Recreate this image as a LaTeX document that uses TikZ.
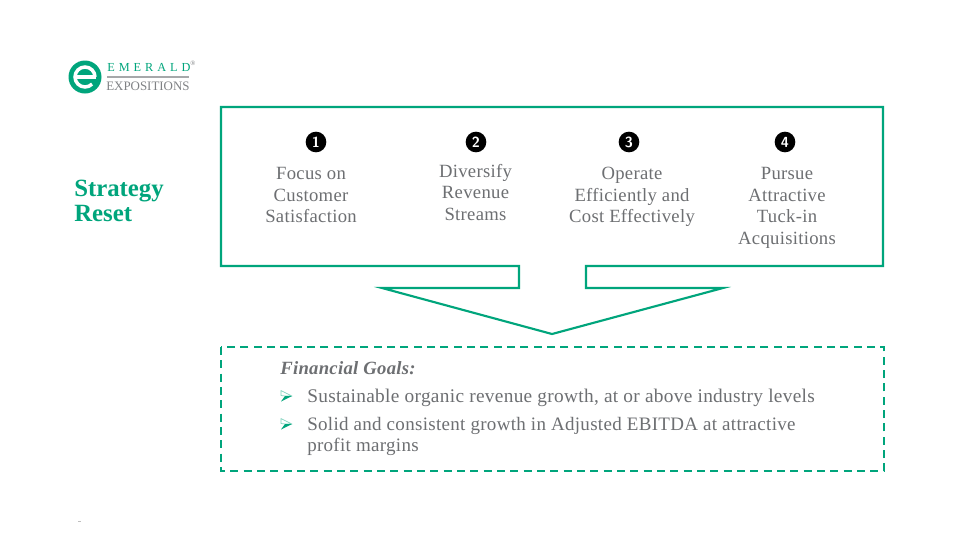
\documentclass[tikz,border=0pt]{standalone}
\usepackage{fontspec}
\setmainfont{Liberation Serif}
\newfontfamily\wide[LetterSpace=1.6]{Liberation Serif}
\definecolor{emerald}{HTML}{00A57C}
\definecolor{paleemerald}{HTML}{7FD2BD}
\definecolor{bodygray}{HTML}{6D6F72}
\definecolor{logogray}{HTML}{808285}
\tikzset{
  x=0.75pt,y=-0.75pt,
  frame/.style={draw=emerald,line width=1.6pt,line join=miter},
  goalsframe/.style={draw=emerald,line width=1.3pt,dash pattern=on 6pt off 4pt},
  badge/.style={circle,fill=black,text=white,inner sep=0pt,minimum size=15.5pt,font=\sffamily\bfseries\fontsize{11}{11}\selectfont},
  pillar/.style={text=bodygray,align=center,inner sep=0pt,font=\wide\fontsize{14}{16.2}\selectfont},
  goal/.style={text=bodygray,align=left,anchor=west,inner sep=0pt,font=\wide\fontsize{14.5}{16.4}\selectfont},
  heading/.style={text=emerald,align=left,anchor=west,inner sep=0pt,font=\bfseries\fontsize{18.6}{18.8}\selectfont},
  arrowbullet/.pic={
    \draw[paleemerald,line width=0.5pt,line join=round] (-5.5,-0.5) -- (-5.5,-5.5) -- (5.5,0) -- (-1.5,0) -- cycle;
    \fill[emerald] (-5.5,5.5) -- (-1.5,0) -- (5.5,0) -- cycle;
  },
}
\begin{document}
\begin{tikzpicture}
\useasboundingbox (0,0) rectangle (960,540);
\fill[white] (0,0) rectangle (960,540);
% logo
\fill[emerald] (85,77) circle (16.5);
\draw[white,line width=2.6pt] (95,77) arc (0:-315:10);
\draw[white,line width=2.6pt] (76,77) -- (96,77);
\node[text=emerald,anchor=west,inner sep=0pt,font=\fontsize{9.2}{9.2}\selectfont] (logoa) at (107,67) {E\hspace{3pt}M\hspace{3pt}E\hspace{3pt}R\hspace{3pt}A\hspace{3pt}L\hspace{3pt}D};
\node[text=logogray,inner sep=0pt,anchor=west,font=\fontsize{5}{5}\selectfont] (logor) at (190,63) {®};
\draw[logogray!70,line width=1.1pt] (107,77) -- (189,77);
\node[text=logogray,anchor=west,inner sep=0pt,font=\fontsize{9.7}{9.7}\selectfont] (logob) at (106,86) {EXPOSITIONS};
% heading
\node[heading] (head) at (74,200.5) {Strategy\\Reset};
% callout
\draw[frame] (221,107) -- (883,107) -- (883,266) -- (586,266) -- (586,288) -- (723,288) -- (552,334) -- (382,288) -- (519,288) -- (519,266) -- (221,266) -- cycle;
\node[badge] (b1) at (316,142) {1};
\node[badge] (b2) at (476,142) {2};
\node[badge] (b3) at (629,142) {3};
\node[badge] (b4) at (785,142) {4};
\node[pillar] (p1) at (311,195) {Focus on\\Customer\\Satisfaction};
\node[pillar] (p2) at (475.5,192.5) {Diversify\\Revenue\\Streams};
\node[pillar] (p3) at (632,197) {Operate\\Efficiently and\\Cost Effectively};
\node[pillar] (p4) at (787,208) {Pursue\\Attractive\\Tuck-in\\Acquisitions};
% goals
\draw[goalsframe] (221,347) rectangle (884,471);
\node[goal,font=\wide\bfseries\itshape\fontsize{14}{16}\selectfont] (g0) at (280,368) {Financial Goals:};
\pic at (286.5,396) {arrowbullet};
\node[goal] (g1) at (307,397.5) {Sustainable organic revenue growth, at or above industry levels};
\pic at (286.5,424) {arrowbullet};
\node[goal,font=\wide\fontsize{14.25}{16.4}\selectfont] (g2) at (307,436.5) {Solid and consistent growth in Adjusted EBITDA at attractive\\profit margins};
\fill[black!25] (78,521) rectangle (81,522);
\end{tikzpicture}
\end{document}
